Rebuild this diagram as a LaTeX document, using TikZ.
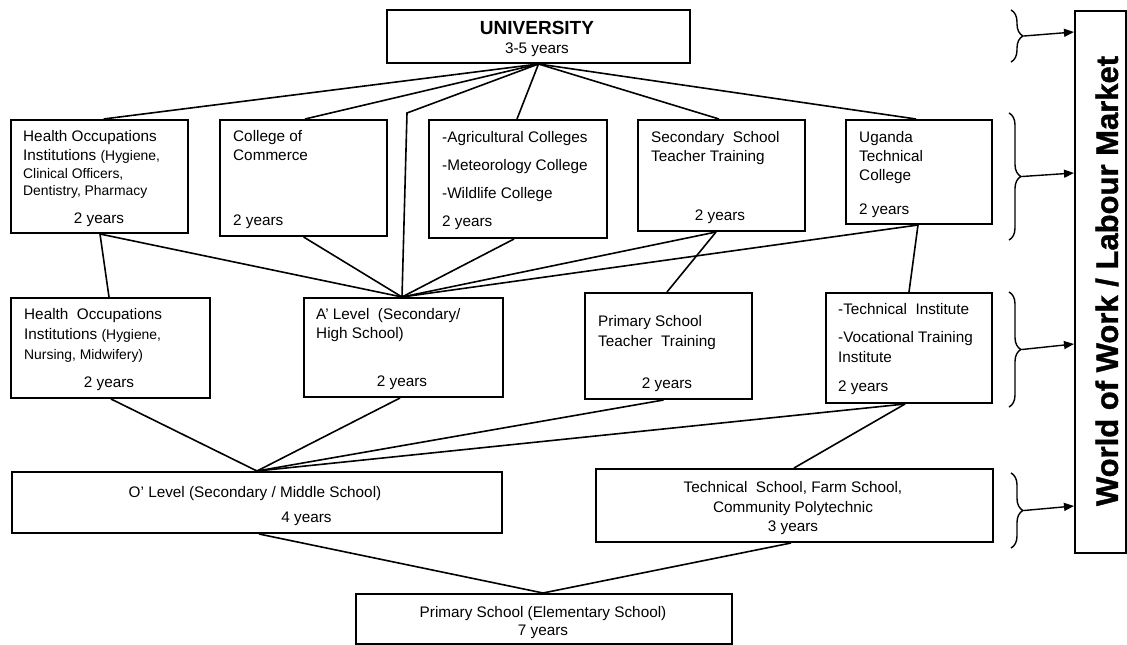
\documentclass[tikz,border=0pt]{standalone}
\usepackage{fontspec}
\setmainfont{Liberation Sans}
\newfontfamily\headfont{Liberation Sans}
\newfontfamily\sidefont{Liberation Sans Bold}[FakeBold=1.2]
\usetikzlibrary{decorations.pathreplacing,arrows.meta}
\newcommand\bodyfont{\fontsize{15.3}{18}\selectfont}
\newcommand\notefont{\fontsize{13.9}{16}\selectfont}
\begin{document}
\begin{tikzpicture}[x=1pt,y=-1pt,
  box/.style={draw,line width=2pt,inner sep=0pt,anchor=north west},
  lbl/.style={inner sep=0pt,anchor=base west,font=\bodyfont},
  clbl/.style={inner sep=0pt,anchor=base,font=\bodyfont},
  link/.style={line width=1.6pt},
  brc/.style={decorate,decoration={brace,amplitude=12pt},line width=1.4pt},
  feed/.style={line width=1.4pt,-{Triangle[length=10pt,width=8pt]}}]
\useasboundingbox (0,0) rectangle (1127,645);

% ---- boxes ----
\node[box,minimum width=303pt,minimum height=53pt] (uni) at (386,9) {};
\node[box,minimum width=177pt,minimum height=113pt] (hoi) at (10,119) {};
\node[box,minimum width=167pt,minimum height=116pt] (com) at (219,119) {};
\node[box,minimum width=178.5pt,minimum height=118pt] (agr) at (427.5,119) {};
\node[box,minimum width=167pt,minimum height=111pt] (sst) at (637,119) {};
\node[box,minimum width=146pt,minimum height=104pt] (utc) at (845,119) {};
\node[box,minimum width=199pt,minimum height=100pt] (ho2) at (10,297) {};
\node[box,minimum width=199pt,minimum height=99pt] (alv) at (303,297) {};
\node[box,minimum width=167pt,minimum height=106pt] (ptt) at (584,292) {};
\node[box,minimum width=166.5pt,minimum height=110pt] (tvi) at (824.5,292) {};
\node[box,minimum width=490pt,minimum height=61pt] (olv) at (11,471) {};
\node[box,minimum width=397pt,minimum height=73pt] (tsc) at (595,468) {};
\node[box,minimum width=376pt,minimum height=50pt] (pri) at (355,593) {};
\node[box,minimum width=51pt,minimum height=542pt] (wow) at (1074,10) {};

% ---- texts ----
\node[clbl,font=\headfont\bfseries\fontsize{19}{19}\selectfont] (unit) at (537,34) {UNIVERSITY};
\node[clbl] (uniy) at (537,53) {3-5 years};

\node[lbl] (hoi1) at (23,141.5) {Health Occupations};
\node[lbl] (hoi2) at (23,160.5) {Institutions {\notefont(Hygiene,}};
\node[lbl,font=\notefont] (hoi3) at (23,178) {Clinical Officers,};
\node[lbl,font=\notefont] (hoi4) at (23,195) {Dentistry, Pharmacy};
\node[clbl] (hoiy) at (99,223) {2 years};

\node[lbl] (com1) at (233,141.5) {College of};
\node[lbl] (com2) at (233,160.5) {Commerce};
\node[lbl] (comy) at (233,225) {2 years};

\node[lbl] (agr1) at (442,142) {-Agricultural Colleges};
\node[lbl] (agr2) at (442,170) {-Meteorology College};
\node[lbl] (agr3) at (442,198) {-Wildlife College};
\node[lbl] (agry) at (442,226) {2 years};

\node[lbl] (sst1) at (651,142) {Secondary\ \ School};
\node[lbl] (sst2) at (651,161) {Teacher Training};
\node[clbl] (ssty) at (720,220) {2 years};

\node[lbl] (utc1) at (859,142) {Uganda};
\node[lbl] (utc2) at (859,161) {Technical};
\node[lbl] (utc3) at (859,180) {College};
\node[lbl] (utcy) at (859,214) {2 years};

\node[lbl] (ho21) at (24,319) {Health\ \ Occupations};
\node[lbl] (ho22) at (24,339) {Institutions {\notefont(Hygiene,}};
\node[lbl,font=\notefont] (ho23) at (24,359) {Nursing, Midwifery)};
\node[clbl] (ho2y) at (109,387) {2 years};

\node[lbl] (alv1) at (316,319) {A' Level\ \ (Secondary/};
\node[lbl] (alv2) at (316,338) {High School)};
\node[clbl] (alvy) at (402,386) {2 years};

\node[lbl] (ptt1) at (598,326) {Primary School};
\node[lbl] (ptt2) at (598,346) {Teacher\ \ Training};
\node[clbl] (ptty) at (667,388) {2 years};

\node[lbl] (tvi1) at (838,314) {-Technical\ \ Institute};
\node[lbl] (tvi2) at (838,342) {-Vocational Training};
\node[lbl] (tvi3) at (838,362) {Institute};
\node[lbl] (tviy) at (838,391) {2 years};

\node[clbl] (olv1) at (255,497) {O' Level (Secondary / Middle School)};
\node[clbl] (olvy) at (306.5,522) {4 years};

\node[clbl] (tsc1) at (793,492) {Technical\ \ School, Farm School,};
\node[clbl] (tsc2) at (793,512) {Community Polytechnic};
\node[clbl] (tscy) at (793,531) {3 years};

\node[clbl] (pri1) at (543,617) {Primary School (Elementary School)};
\node[clbl] (priy) at (543,635) {7 years};

\node[rotate=90,inner sep=0pt,font=\sidefont\fontsize{31}{31}\selectfont] (wowt) at (1107,281) {World of Work / Labour Market};

% ---- connectors ----
\coordinate (alvtop) at ([xshift=99pt]alv.north west);
\coordinate (bend) at (407,113);
\coordinate (olvtop) at ([xshift=246pt]olv.north west);
\coordinate (pritop) at ([xshift=188pt]pri.north west);

\draw[link] (uni.south) -- ([xshift=93.6pt]hoi.north west);
\draw[link] (uni.south) -- ([xshift=86pt]com.north west);
\draw[link] (uni.south) -- (bend) -- (alvtop);
\draw[link] (uni.south) -- ([xshift=89.5pt]agr.north west);
\draw[link] (uni.south) -- ([xshift=82pt]sst.north west);
\draw[link] (uni.south) -- ([xshift=71pt]utc.north west);

\draw[link] ([xshift=90pt]hoi.south west) -- (alvtop);
\draw[link] ([xshift=90pt]hoi.south west) -- ([xshift=99pt]ho2.north west);
\draw[link] ([xshift=84.6pt]com.south west) -- (alvtop);
\draw[link] ([xshift=86.5pt]agr.south west) -- (alvtop);
\draw[link] ([xshift=79pt]sst.south west) -- (alvtop);
\draw[link] ([xshift=79pt]sst.south west) -- ([xshift=83pt]ptt.north west);
\draw[link] ([xshift=73pt]utc.south west) -- (alvtop);
\draw[link] ([xshift=73pt]utc.south west) -- ([xshift=84.5pt]tvi.north west);

\draw[link] ([xshift=101pt]ho2.south west) -- (olvtop);
\draw[link] ([xshift=97pt]alv.south west) -- (olvtop);
\draw[link] ([xshift=79.5pt]ptt.south west) -- (olvtop);
\draw[link] ([xshift=80.5pt]tvi.south west) -- (olvtop);
\draw[link] ([xshift=80.5pt]tvi.south west) -- ([xshift=199pt]tsc.north west);

\draw[link] ([xshift=248pt]olv.south west) -- (pritop);
\draw[link] ([xshift=196pt]tsc.south west) -- (pritop);

% ---- braces feeding the labour market ----
\draw[brc] (1011,10) -- (1011,62);
\draw[brc] (1009,113) -- (1009,240);
\draw[brc] (1009,292) -- (1009,407);
\draw[brc] (1011,473) -- (1011,548);
\coordinate (b1) at (1024,36);
\coordinate (b2) at (1022,176.5);
\coordinate (b3) at (1022,349.5);
\coordinate (b4) at (1024,510.5);
\draw[feed] (b1) -- ([yshift=-22pt]wow.north west);
\draw[feed] (b2) -- ([yshift=-163pt]wow.north west);
\draw[feed] (b3) -- ([yshift=-334pt]wow.north west);
\draw[feed] (b4) -- ([yshift=-496pt]wow.north west);
\end{tikzpicture}
\end{document}
